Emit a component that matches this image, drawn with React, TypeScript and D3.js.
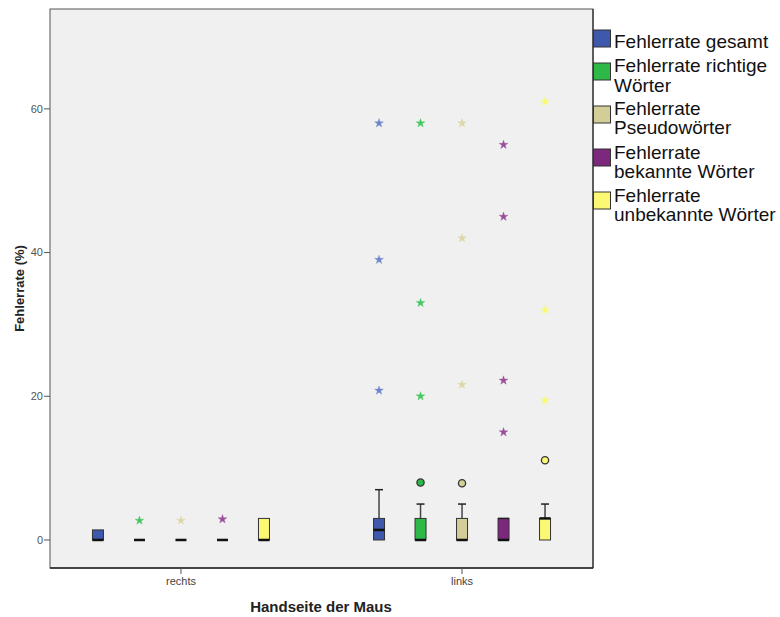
import React from "react";
import * as d3 from "d3";

const categories = ["rechts", "links"];
const seriesNames = [
  ["Fehlerrate gesamt"],
  ["Fehlerrate richtige", "Wörter"],
  ["Fehlerrate", "Pseudowörter"],
  ["Fehlerrate", "bekannte Wörter"],
  ["Fehlerrate", "unbekannte Wörter"],
];
const colors = ["#3e58ac", "#2eb848", "#d3ce97", "#7c287d", "#fbf873"];
const starColors = ["#6f84cc", "#45c860", "#dcd7a8", "#9a4e9b", "#fafa70"];
const yTicks = [0, 20, 40, 60];

// per category, per series
const q1Values = [
  [0, 0, 0, 0, 0],
  [0, 0, 0, 0, 0],
];
const medianValues = [
  [0, 0, 0, 0, 0],
  [1.4, 0, 0, 0, 3],
];
const q3Values = [
  [1.4, 0, 0, 0, 3],
  [3, 3, 3, 3, 3],
];
const whiskerHighValues = [
  [1.4, 0, 0, 0, 3],
  [7, 5, 5, 3, 5],
];
const outlierValues = [
  [[], [], [], [], []],
  [[], [8], [7.9], [], [11.1]],
];
const extremeValues = [
  [[], [2.7], [2.7], [2.9], []],
  [[58, 39, 20.8], [58, 33, 20], [58, 42, 21.6], [55, 45, 22.2, 15], [61, 32, 19.4]],
];

export default function App() {
  const W = 780, H = 617;
  const L = 50, R = 593, T = 9, B = 568;
  const y = d3.scaleLinear().domain([-3.9, 73.9]).range([B, T]);
  const x = d3.scalePoint<string>().domain(categories).range([L, R]).padding(0.466);
  const sub = d3.scalePoint<number>().domain([0, 1, 2, 3, 4]).range([-83, 83]);
  const bw = 11;
  const starPath = d3.symbol().type(d3.symbolStar).size(24)() as string;
  const font = "Liberation Sans, Arial, sans-serif";

  return (
    <svg width={W} height={H} style={{ position: "absolute", left: 0, top: 0, fontFamily: font }}>
      <rect x={0} y={0} width={W} height={H} fill="#ffffff" />
      <rect x={L} y={T} width={R - L} height={B - T} fill="#f0f0f0" stroke="#555" strokeWidth={1} />
      <line x1={R} y1={T} x2={R} y2={B} stroke="#444" strokeWidth={1.5} />
      <line x1={L} y1={B} x2={R} y2={B} stroke="#222" strokeWidth={1.5} />
      {/* y axis */}
      {yTicks.map((t) => (
        <g key={t}>
          <line x1={L - 6} x2={L} y1={y(t)} y2={y(t)} stroke="#555" />
          <text x={L - 7} y={y(t)} dy="0.35em" textAnchor="end" fontSize={11} fill="#555">
            {t}
          </text>
        </g>
      ))}
      {/* x axis */}
      {categories.map((c) => (
        <g key={c}>
          <line x1={x(c)} x2={x(c)} y1={B} y2={B + 6} stroke="#555" />
          <text x={x(c)} y={B + 17} textAnchor="middle" fontSize={11} fill="#444">
            {c}
          </text>
        </g>
      ))}
      <text x={321} y={612} textAnchor="middle" fontSize={15} fontWeight="bold" fill="#222">
        Handseite der Maus
      </text>
      <text transform={`translate(24,${(T + B) / 2}) rotate(-90)`} textAnchor="middle" fontSize={13} fontWeight="bold" fill="#222">
        Fehlerrate (%)
      </text>
      {/* boxes */}
      {categories.map((c, ci) => (
        <g key={c}>
          {colors.map((col, si) => {
            const cx = (x(c) as number) + (sub(si) as number);
            const q1 = y(q1Values[ci][si]);
            const q3 = y(q3Values[ci][si]);
            const med = y(medianValues[ci][si]);
            const wh = y(whiskerHighValues[ci][si]);
            return (
              <g key={si}>
                {wh < q3 - 0.5 && (
                  <>
                    <line x1={cx} x2={cx} y1={q3} y2={wh} stroke="#444" strokeWidth={1.5} />
                    <line x1={cx - 4} x2={cx + 4} y1={wh} y2={wh} stroke="#222" strokeWidth={1.5} />
                  </>
                )}
                {q1 - q3 > 0.5 && (
                  <rect x={cx - bw / 2} y={q3} width={bw} height={q1 - q3} fill={col} stroke="#333" strokeWidth={1} />
                )}
                {q1 - q3 > 0.5 && si === 3 && ci === 1 && (
                  <line x1={cx - bw / 2} x2={cx + bw / 2} y1={q3} y2={q3} stroke="#222" strokeWidth={1.5} />
                )}
                <line x1={cx - bw / 2} x2={cx + bw / 2} y1={med} y2={med} stroke="#111" strokeWidth={2.5} />
                {outlierValues[ci][si].map((v, k) => (
                  <circle key={"o" + k} cx={cx} cy={y(v)} r={3.6} fill={col} stroke="#333" strokeWidth={1.3} />
                ))}
                {extremeValues[ci][si].map((v, k) => (
                  <path key={"e" + k} d={starPath} transform={`translate(${cx},${y(v)})`} fill={starColors[si]} stroke={starColors[si]} strokeWidth={0.6} strokeOpacity={0.6} />
                ))}
              </g>
            );
          })}
        </g>
      ))}
      {/* legend */}
      {seriesNames.map((lines, i) => {
        const itemTop = [30, 63, 106, 149, 192][i];
        const textTop = [48, 72, 92, 115, 134, 159, 178, 202, 221];
        const startIdx = [0, 1, 3, 5, 7][i];
        return (
          <g key={i}>
            <rect x={593.5} y={itemTop} width={17} height={17} fill={colors[i]} stroke="#333" strokeWidth={1} />
            {lines.map((ln, k) => (
              <text key={k} x={614} y={textTop[startIdx + k]} fontSize={19} fill="#111">
                {ln}
              </text>
            ))}
          </g>
        );
      })}
    </svg>
  );
}
